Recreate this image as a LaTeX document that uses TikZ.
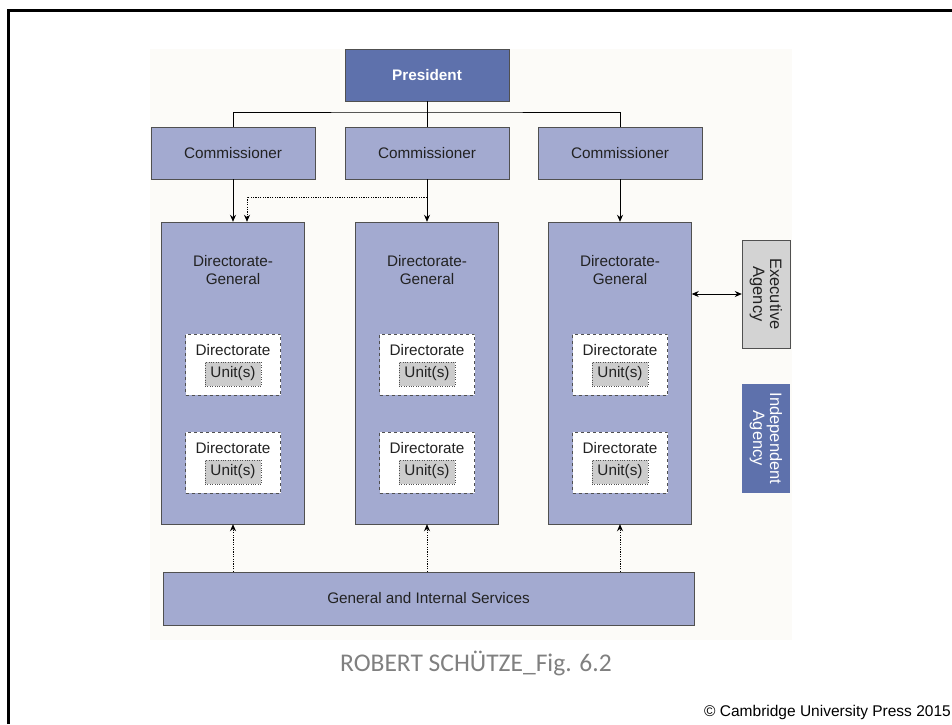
\documentclass[tikz,border=0pt]{standalone}
\usepackage{fontspec}
\setmainfont{Liberation Sans}
\newfontfamily\captionfont{Carlito}
\usetikzlibrary{positioning, arrows.meta}

\definecolor{presblue}{HTML}{5E71AC}
\definecolor{boxblue}{HTML}{A3AAD0}
\definecolor{panelbg}{HTML}{FCFBF8}
\definecolor{agencygray}{HTML}{D3D3D3}
\definecolor{unitgray}{HTML}{CCCCCC}
\definecolor{edgegray}{HTML}{505050}
\definecolor{textdark}{HTML}{222222}
\definecolor{captiongray}{HTML}{808080}

\tikzset{
  boxfont/.style    = {font=\fontsize{15.3}{18}\selectfont, text=textdark},
  orgbox/.style     = {draw=edgegray, fill=boxblue, inner sep=0pt, boxfont},
  presbox/.style    = {orgbox, fill=presblue, text=white, font=\bfseries\fontsize{15.3}{18}\selectfont,
                       minimum width=164pt, minimum height=52pt},
  combox/.style     = {orgbox, minimum width=164pt, minimum height=52pt},
  dgbox/.style      = {orgbox, minimum width=143pt, minimum height=302pt},
  dirbox/.style     = {draw=edgegray, dashed, fill=white, minimum width=95pt, minimum height=61pt},
  unitbox/.style    = {draw=edgegray, dotted, fill=unitgray, minimum width=56pt, minimum height=24pt,
                       inner sep=0pt, boxfont},
  agencybox/.style  = {draw=edgegray, rotate=-90, align=center, inner sep=0pt,
                       minimum width=108pt, minimum height=48pt,
                       font=\fontsize{16.5}{17}\selectfont},
  link/.style       = {draw=black, line width=0.9pt},
  tip/.style        = {-{Stealth[length=7pt, width=6pt]}},
  dots/.style       = {dash pattern=on 1.2pt off 1.2pt}
}

\begin{document}
\begin{tikzpicture}[x=1pt, y=-1pt]
  \useasboundingbox (0,0) rectangle (952,724);
  \fill[panelbg] (150,49) rectangle (792,640);
  \draw[line width=3pt] (8,724) -- (8,10) -- (952,10);

  \node (pres)  [presbox] at (427,75)      {President};
  \node (com1)  [combox]  at (233,153)     {Commissioner};
  \node (com2)  [combox]  at (427,153)     {Commissioner};
  \node (com3)  [combox]  at (620,153)     {Commissioner};

  \node (dg1)   [dgbox]   at (233,373)     {};
  \node (dg2)   [dgbox]   at (427,373)     {};
  \node (dg3)   [dgbox]   at (620,373)     {};
  \node (dg1lbl) [below=30pt of dg1.north, align=center, boxfont] {Directorate-\\General};
  \node (dg2lbl) [below=30pt of dg2.north, align=center, boxfont] {Directorate-\\General};
  \node (dg3lbl) [below=30pt of dg3.north, align=center, boxfont] {Directorate-\\General};

  % directorates with their units
  \node (dir1a) [dirbox] at (233,364.5) {};
  \node (dir1b) [dirbox] at (233,462.5) {};
  \node (dir2a) [dirbox] at (427,364.5) {};
  \node (dir2b) [dirbox] at (427,462.5) {};
  \node (dir3a) [dirbox] at (620,364.5) {};
  \node (dir3b) [dirbox] at (620,462.5) {};
  \node (dir1alb) [below=8pt of dir1a.north, boxfont, inner sep=2pt] {Directorate};
  \node (dir1blb) [below=8pt of dir1b.north, boxfont, inner sep=2pt] {Directorate};
  \node (dir2alb) [below=8pt of dir2a.north, boxfont, inner sep=2pt] {Directorate};
  \node (dir2blb) [below=8pt of dir2b.north, boxfont, inner sep=2pt] {Directorate};
  \node (dir3alb) [below=8pt of dir3a.north, boxfont, inner sep=2pt] {Directorate};
  \node (dir3blb) [below=8pt of dir3b.north, boxfont, inner sep=2pt] {Directorate};
  \node (unit1a) [unitbox] at (233,374) {Unit(s)};
  \node (unit1b) [unitbox] at (233,472) {Unit(s)};
  \node (unit2a) [unitbox] at (427,374) {Unit(s)};
  \node (unit2b) [unitbox] at (427,472) {Unit(s)};
  \node (unit3a) [unitbox] at (620,374) {Unit(s)};
  \node (unit3b) [unitbox] at (620,472) {Unit(s)};

  \node (exec)  [agencybox, fill=agencygray, text=textdark] at (766,294)   {Executive\\Agency};
  \node (indep) [agencybox, fill=presblue, draw=none, text=white,
                 minimum width=109pt] at (766,438.5) {Independent\\Agency};

  \node (serv)  [orgbox, minimum width=531pt, minimum height=53pt] at (428.5,598.5)
                {General and Internal Services};

  \node (cap)   [text=captiongray, font=\captionfont\fontsize{25.5}{28}\selectfont] at (476,663)
                {ROBERT SCHÜTZE\_Fig. 6.2};
  \node (copy)  [anchor=east, inner sep=0pt, font=\fontsize{15.5}{17}\selectfont] at (951,712)
                {© Cambridge University Press 2015};

  \coordinate (bus)  at (427,112);
  \coordinate (dotc) at (427,197);
  \coordinate (dotl) at (247,197);

  \draw[link] (pres) -- (bus);
  \draw[link] (com1.north) |- (bus) -| (com3.north);
  \draw[link] (bus) -- (com2.north);

  \draw[link, tip] (com1) -- (dg1);
  \draw[link, tip] (com2) -- (dg2);
  \draw[link, tip] (com3) -- (dg3);
  \draw[link, tip, dots] (dotc) -- (dotl) -- (dotl |- dg1.north);

  \draw[link, tip, dots] (serv.north -| dg1) -- (dg1);
  \draw[link, tip, dots] (serv.north -| dg2) -- (dg2);
  \draw[link, tip, dots] (serv.north -| dg3) -- (dg3);

  \draw[link, {Stealth[length=7pt, width=6pt]}-{Stealth[length=7pt, width=6pt]}]
       (dg3.east |- exec.south) -- (exec.south);
\end{tikzpicture}
\end{document}
